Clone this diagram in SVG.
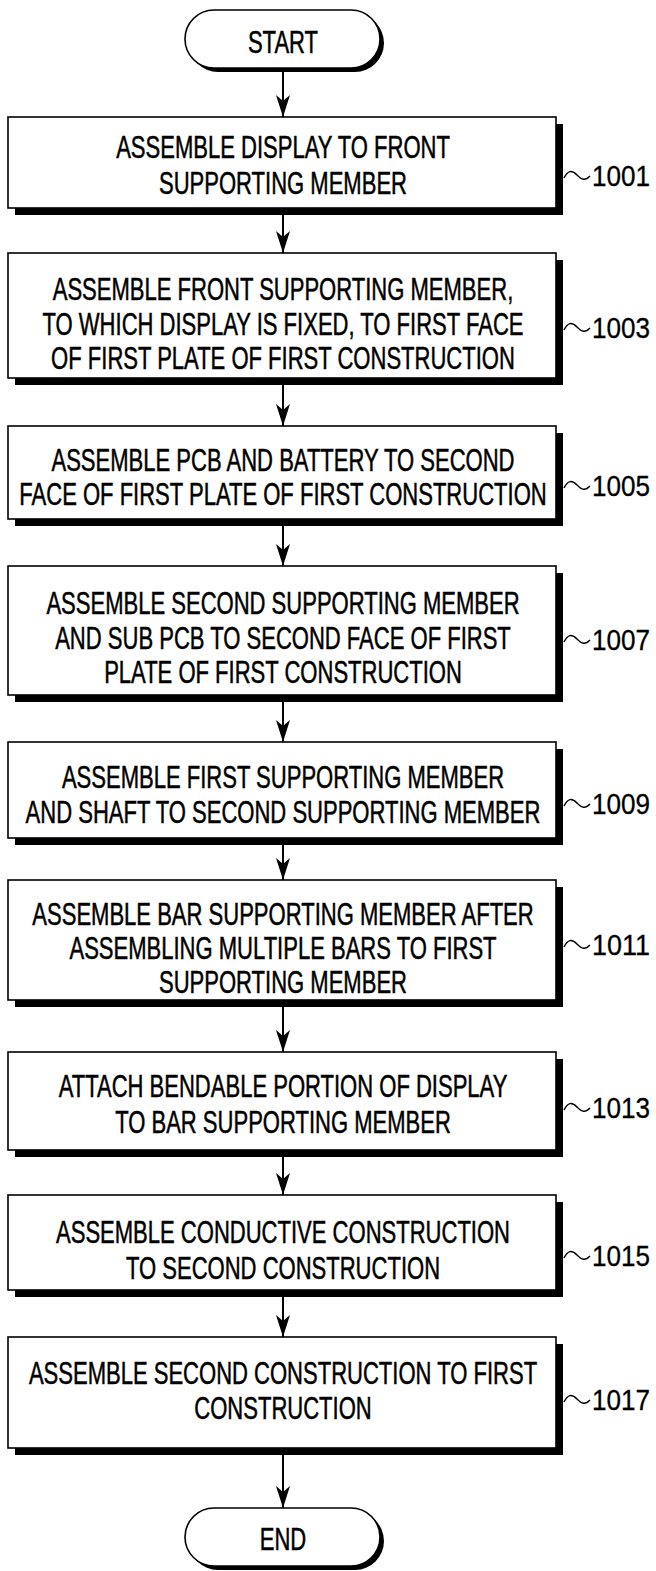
<svg xmlns="http://www.w3.org/2000/svg" width="656" height="1571" viewBox="0 0 656 1571">
<defs>
<style>
.box{fill:#fff;stroke:#000;stroke-width:1.6}
.sh{fill:#000}
.t{font-family:"Liberation Sans",Arial,sans-serif;font-size:31px;fill:#000;stroke:#000;stroke-width:0.5;text-anchor:middle}
.lbl{font-family:"Liberation Sans",Arial,sans-serif;font-size:29px;fill:#000;stroke:#000;stroke-width:0.3}
.tl{fill:none;stroke:#000;stroke-width:1.5}
.cn{stroke:#000;stroke-width:2;fill:none}
</style>
<marker id="ah" markerUnits="userSpaceOnUse" markerWidth="24" markerHeight="16" refX="22" refY="8" orient="auto" viewBox="0 0 24 16">
<path d="M0,1 L22,8 L0,15 L6,8 Z" fill="#000"/>
</marker>
</defs>
<rect width="656" height="1571" fill="#fff"/>
<g id="connectors">
<line class="cn" x1="283" y1="72" x2="283" y2="117" marker-end="url(#ah)"/>
<line class="cn" x1="283" y1="215" x2="283" y2="253" marker-end="url(#ah)"/>
<line class="cn" x1="283" y1="385" x2="283" y2="426" marker-end="url(#ah)"/>
<line class="cn" x1="283" y1="526" x2="283" y2="566" marker-end="url(#ah)"/>
<line class="cn" x1="283" y1="702" x2="283" y2="742" marker-end="url(#ah)"/>
<line class="cn" x1="283" y1="845" x2="283" y2="880" marker-end="url(#ah)"/>
<line class="cn" x1="283" y1="1007" x2="283" y2="1052" marker-end="url(#ah)"/>
<line class="cn" x1="283" y1="1157" x2="283" y2="1195" marker-end="url(#ah)"/>
<line class="cn" x1="283" y1="1297" x2="283" y2="1337" marker-end="url(#ah)"/>
<line class="cn" x1="283" y1="1455" x2="283" y2="1508" marker-end="url(#ah)"/>
</g>
<g id="start">
<rect class="sh" x="189" y="14" width="195" height="58" rx="29"/>
<rect class="box" x="185" y="10" width="195" height="58" rx="29"/>
<g transform="matrix(0.711 0 0 1 283 0)"><text class="t" x="0" y="53">START</text></g>
</g>
<g id="n1001">
<rect class="sh" x="15" y="124" width="548" height="91"/>
<rect class="box" x="8" y="117" width="548" height="91"/>
<g transform="matrix(0.711 0 0 1 283 0)">
<text class="t" x="0" y="158">ASSEMBLE DISPLAY TO FRONT</text>
<text class="t" x="0" y="194">SUPPORTING MEMBER</text>
</g>
<path class="tl" d="M564,178 C568,170 572,170 577,175 S585,181 590,176"/>
<text class="lbl" x="592" y="186" textLength="58" lengthAdjust="spacingAndGlyphs">1001</text>
</g>
<g id="n1003">
<rect class="sh" x="15" y="260" width="548" height="125"/>
<rect class="box" x="8" y="253" width="548" height="125"/>
<g transform="matrix(0.711 0 0 1 283 0)">
<text class="t" x="0" y="300">ASSEMBLE FRONT SUPPORTING MEMBER,</text>
<text class="t" x="0" y="335">TO WHICH DISPLAY IS FIXED, TO FIRST FACE</text>
<text class="t" x="0" y="369">OF FIRST PLATE OF FIRST CONSTRUCTION</text>
</g>
<path class="tl" d="M564,330 C568,322 572,322 577,327 S585,333 590,328"/>
<text class="lbl" x="592" y="338" textLength="58" lengthAdjust="spacingAndGlyphs">1003</text>
</g>
<g id="n1005">
<rect class="sh" x="15" y="433" width="548" height="93"/>
<rect class="box" x="8" y="426" width="548" height="93"/>
<g transform="matrix(0.711 0 0 1 283 0)">
<text class="t" x="0" y="471">ASSEMBLE PCB AND BATTERY TO SECOND</text>
<text class="t" x="0" y="505">FACE OF FIRST PLATE OF FIRST CONSTRUCTION</text>
</g>
<path class="tl" d="M564,488 C568,480 572,480 577,485 S585,491 590,486"/>
<text class="lbl" x="592" y="496" textLength="58" lengthAdjust="spacingAndGlyphs">1005</text>
</g>
<g id="n1007">
<rect class="sh" x="15" y="573" width="548" height="129"/>
<rect class="box" x="8" y="566" width="548" height="129"/>
<g transform="matrix(0.711 0 0 1 283 0)">
<text class="t" x="0" y="614">ASSEMBLE SECOND SUPPORTING MEMBER</text>
<text class="t" x="0" y="649">AND SUB PCB TO SECOND FACE OF FIRST</text>
<text class="t" x="0" y="683">PLATE OF FIRST CONSTRUCTION</text>
</g>
<path class="tl" d="M564,642 C568,634 572,634 577,639 S585,645 590,640"/>
<text class="lbl" x="592" y="650" textLength="58" lengthAdjust="spacingAndGlyphs">1007</text>
</g>
<g id="n1009">
<rect class="sh" x="15" y="749" width="548" height="96"/>
<rect class="box" x="8" y="742" width="548" height="96"/>
<g transform="matrix(0.711 0 0 1 283 0)">
<text class="t" x="0" y="788">ASSEMBLE FIRST SUPPORTING MEMBER</text>
<text class="t" x="0" y="823">AND SHAFT TO SECOND SUPPORTING MEMBER</text>
</g>
<path class="tl" d="M564,806 C568,798 572,798 577,803 S585,809 590,804"/>
<text class="lbl" x="592" y="814" textLength="58" lengthAdjust="spacingAndGlyphs">1009</text>
</g>
<g id="n1011">
<rect class="sh" x="15" y="887" width="548" height="120"/>
<rect class="box" x="8" y="880" width="548" height="120"/>
<g transform="matrix(0.711 0 0 1 283 0)">
<text class="t" x="0" y="925">ASSEMBLE BAR SUPPORTING MEMBER AFTER</text>
<text class="t" x="0" y="959">ASSEMBLING MULTIPLE BARS TO FIRST</text>
<text class="t" x="0" y="993">SUPPORTING MEMBER</text>
</g>
<path class="tl" d="M564,947 C568,939 572,939 577,944 S585,950 590,945"/>
<text class="lbl" x="592" y="955" textLength="58" lengthAdjust="spacingAndGlyphs">1011</text>
</g>
<g id="n1013">
<rect class="sh" x="15" y="1059" width="548" height="98"/>
<rect class="box" x="8" y="1052" width="548" height="98"/>
<g transform="matrix(0.711 0 0 1 283 0)">
<text class="t" x="0" y="1097">ATTACH BENDABLE PORTION OF DISPLAY</text>
<text class="t" x="0" y="1133">TO BAR SUPPORTING MEMBER</text>
</g>
<path class="tl" d="M564,1110 C568,1102 572,1102 577,1107 S585,1113 590,1108"/>
<text class="lbl" x="592" y="1118" textLength="58" lengthAdjust="spacingAndGlyphs">1013</text>
</g>
<g id="n1015">
<rect class="sh" x="15" y="1202" width="548" height="95"/>
<rect class="box" x="8" y="1195" width="548" height="95"/>
<g transform="matrix(0.711 0 0 1 283 0)">
<text class="t" x="0" y="1243">ASSEMBLE CONDUCTIVE CONSTRUCTION</text>
<text class="t" x="0" y="1279">TO SECOND CONSTRUCTION</text>
</g>
<path class="tl" d="M564,1258 C568,1250 572,1250 577,1255 S585,1261 590,1256"/>
<text class="lbl" x="592" y="1266" textLength="58" lengthAdjust="spacingAndGlyphs">1015</text>
</g>
<g id="n1017">
<rect class="sh" x="15" y="1344" width="548" height="111"/>
<rect class="box" x="8" y="1337" width="548" height="111"/>
<g transform="matrix(0.711 0 0 1 283 0)">
<text class="t" x="0" y="1384">ASSEMBLE SECOND CONSTRUCTION TO FIRST</text>
<text class="t" x="0" y="1419">CONSTRUCTION</text>
</g>
<path class="tl" d="M564,1402 C568,1394 572,1394 577,1399 S585,1405 590,1400"/>
<text class="lbl" x="592" y="1410" textLength="58" lengthAdjust="spacingAndGlyphs">1017</text>
</g>
<g id="end">
<rect class="sh" x="189" y="1512" width="195" height="58" rx="29"/>
<rect class="box" x="185" y="1508" width="195" height="58" rx="29"/>
<g transform="matrix(0.711 0 0 1 283 0)"><text class="t" x="0" y="1550">END</text></g>
</g>
</svg>
